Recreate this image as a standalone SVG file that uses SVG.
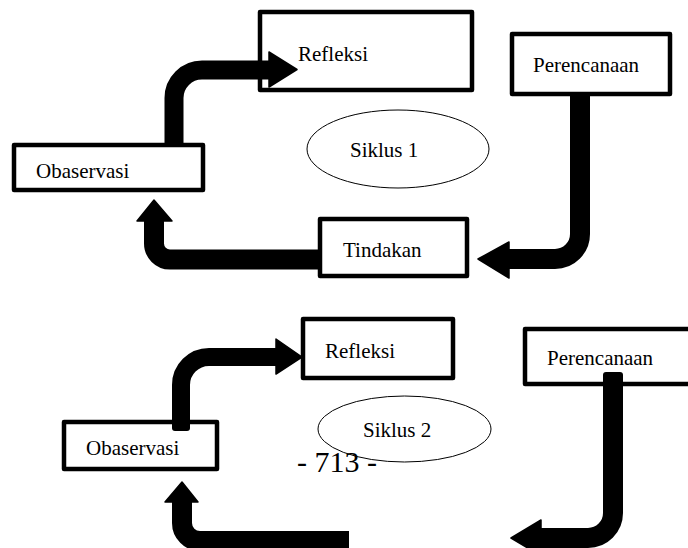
<svg xmlns="http://www.w3.org/2000/svg" width="688" height="548" viewBox="0 0 688 548">
<style>
.box{fill:#fff;stroke:#000;stroke-width:4.5;stroke-linejoin:round}
.lbl{font-family:"Liberation Serif","Times New Roman",serif;font-size:21px;fill:#000}
.oval{fill:#fff;stroke:#000;stroke-width:1}
.shaft{fill:none;stroke:#000;stroke-linecap:butt}
.head{fill:#000;stroke:#000;stroke-width:1.5;stroke-linejoin:round}
</style>
<rect width="688" height="548" fill="#fff"/>
<g id="refleksi1"><rect class="box" x="260" y="12" width="212" height="78"/><text class="lbl" x="298" y="61">Refleksi</text></g>
<g id="perencanaan1"><rect class="box" x="512" y="34" width="158" height="60"/><text class="lbl" x="533" y="72">Perencanaan</text></g>
<g id="obaservasi1"><rect class="box" x="14" y="145" width="189" height="45"/><text class="lbl" x="36" y="178">Obaservasi</text></g>
<g id="tindakan"><rect class="box" x="320" y="219" width="147" height="57"/><text class="lbl" x="343" y="257">Tindakan</text></g>
<g id="siklus1"><ellipse class="oval" cx="398" cy="149" rx="91" ry="39"/><text class="lbl" x="350" y="157">Siklus 1</text></g>
<g id="refleksi2"><rect class="box" x="303" y="319" width="150" height="59"/><text class="lbl" x="325" y="358">Refleksi</text></g>
<g id="perencanaan2"><rect class="box" x="525" y="329" width="170" height="55"/><text class="lbl" x="547" y="365">Perencanaan</text></g>
<g id="obaservasi2"><rect class="box" x="64" y="422" width="153" height="47"/><text class="lbl" x="86" y="455">Obaservasi</text></g>
<g id="siklus2"><ellipse class="oval" cx="404.5" cy="429" rx="86.5" ry="33"/><text class="lbl" x="363" y="437">Siklus 2</text></g>
<g id="connectors">
<path class="shaft" stroke-width="19" d="M174,145 V98 A28,28 0 0 1 202,70 H272"/>
<polygon class="head" points="269,52 297,69.5 269,87"/>
<path class="shaft" stroke-width="20" d="M320,259.5 H170 A16,16 0 0 1 154,243.5 V219"/>
<polygon class="head" points="137,221 154,200 172,221"/>
<path class="shaft" stroke-width="20" d="M580,96 V234 A25,25 0 0 1 555,259 H505"/>
<polygon class="head" points="509,242 478,259 509,278"/>
<path class="shaft" stroke-width="18" d="M181,425 V385 A28,28 0 0 1 209,357 H279"/>
<rect x="172" y="413" width="18" height="18" rx="3" fill="#000"/>
<polygon class="head" points="276,339 302,357 276,374"/>
<path class="shaft" stroke-width="20" d="M349,541 H200 A18,18 0 0 1 182,523 V500"/>
<polygon class="head" points="165,502 182,482 198,502"/>
<path class="shaft" stroke-width="20" d="M613,378 V513 A25,25 0 0 1 588,538 H538"/>
<rect x="603" y="372" width="20" height="18" rx="3" fill="#000"/>
<polygon class="head" points="541,520 511,538 541,556"/>
</g>
<text id="pagenum" x="297" y="472" style="font-family:'Liberation Serif','Times New Roman',serif;font-size:30px;fill:#000">- 713 -</text>
</svg>
